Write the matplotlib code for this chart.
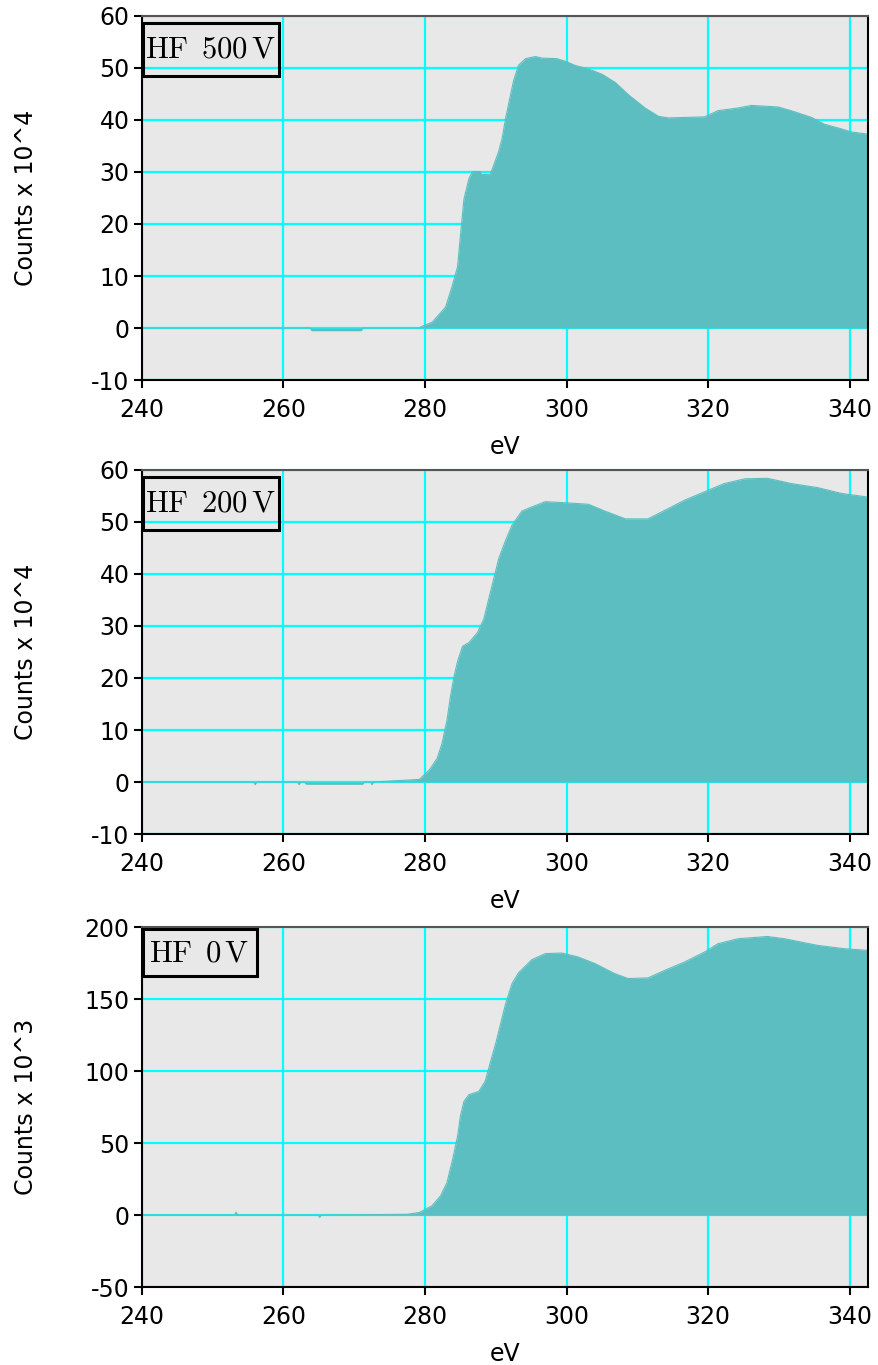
import numpy as np
import matplotlib
matplotlib.use('Agg')
import matplotlib.pyplot as plt
from matplotlib.patches import Rectangle

plt.rcParams['mathtext.fontset'] = 'cm'
plt.rcParams['axes.unicode_minus'] = False

# ---- data (eV, counts) ----
ev_500 = [240, 263.8, 264.0, 271.0, 271.2, 279.2, 279.5, 281.0, 282.9, 283.8,
          284.6, 285.0, 285.5, 286.2, 286.7, 287.8, 288.0, 289.2, 289.7, 290.4,
          290.9, 291.4, 291.8, 292.5, 293.2, 294.2, 295.6, 296.5, 298.6, 299.8,
          301.2, 303.1, 305.0, 306.9, 308.7, 311.1, 313.0, 314.4, 319.5, 321.4,
          324.2, 326.1, 329.9, 331.7, 334.6, 336.4, 338.8, 340.2, 342.5]
cnt_500 = [0, 0, -0.5, -0.5, 0, 0, 0.3, 1.1, 4.0, 7.9,
           11.8, 17.7, 24.8, 28.7, 30.1, 30.1, 29.5, 29.5, 31.3, 33.9,
           36.5, 40.4, 43.0, 47.5, 50.5, 51.8, 52.2, 51.9, 51.8, 51.3,
           50.5, 49.8, 48.8, 47.2, 44.9, 42.3, 40.7, 40.4, 40.6, 41.8,
           42.3, 42.8, 42.5, 41.8, 40.5, 39.2, 38.3, 37.7, 37.3]

ev_200 = [240, 255.8, 256.0, 256.2, 262.0, 262.2, 262.4, 263.0, 263.2, 271.2,
          271.4, 272.3, 272.5, 272.7, 279.2, 280.6, 281.7, 282.4, 283.1, 283.6,
          284.1, 284.6, 285.3, 286.2, 287.4, 288.3, 289.0, 289.7, 290.4, 291.4,
          292.3, 293.7, 295.1, 297.0, 299.8, 303.1, 305.4, 308.3, 311.5, 313.4,
          316.7, 319.5, 322.3, 325.2, 328.4, 331.7, 335.5, 338.8, 342.5]
cnt_200 = [0, 0, -0.5, 0, 0, -0.5, 0, 0, -0.4, -0.4,
           0, 0, -0.5, 0, 0.5, 2.3, 4.5, 7.4, 11.9, 16.5,
           20.3, 23.2, 26.1, 26.8, 28.7, 31.3, 35.2, 39.0, 42.9, 46.5,
           49.4, 52.1, 52.9, 53.9, 53.7, 53.4, 52.1, 50.6, 50.6, 51.9,
           54.2, 55.8, 57.4, 58.3, 58.4, 57.4, 56.6, 55.5, 54.8]

ev_0 = [240, 253.1, 253.3, 253.5, 264.9, 265.1, 265.3, 277.5, 279.2, 281.0,
        282.2, 283.1, 283.9, 284.6, 285.0, 285.5, 286.2, 287.6, 288.5, 289.2,
        290.0, 290.7, 291.4, 292.3, 293.2, 295.1, 297.0, 299.3, 301.6, 304.0,
        306.8, 308.7, 311.5, 313.9, 316.7, 319.5, 321.4, 324.2, 328.4, 330.8,
        335.5, 339.2, 342.5]
cnt_0 = [0, 0, 2.0, 0, 0, -1.5, 0, 0.5, 1.8, 6.5,
         13.4, 22.6, 38.7, 54.8, 68.7, 79.0, 83.6, 85.9, 92.9, 105.5,
         119.4, 133.2, 147.0, 160.8, 168.2, 177.4, 181.6, 182.0, 179.3, 174.7,
         167.7, 164.3, 164.7, 170.0, 175.8, 182.7, 188.5, 191.9, 193.5, 191.9,
         187.3, 185.0, 183.9]

labels = [r'$\mathrm{HF\ \,500\,V}$', r'$\mathrm{HF\ \,200\,V}$', r'$\mathrm{HF\ \,0\,V}$']
ylabels = ['Counts x 10^4', 'Counts x 10^4', 'Counts x 10^3']
ylims = [(-10, 60), (-10, 60), (-50, 200)]
yticks = [np.arange(-10, 61, 10), np.arange(-10, 61, 10), np.arange(-50, 201, 50)]
xticks = [240, 260, 280, 300, 320, 340]

series = [(ev_500, cnt_500), (ev_200, cnt_200), (ev_0, cnt_0)]

fig = plt.figure(figsize=(8.79, 13.65), dpi=100)
# axes rectangles in figure fractions
rects = [[0.1615, 0.7216, 0.826, 0.2667],
         [0.1615, 0.3890, 0.826, 0.2667],
         [0.1615, 0.0571, 0.826, 0.2637]]
# label boxes (x0, y0, w, h) in axes fractions
boxes = [(0.001, 0.835, 0.188, 0.147),
         (0.001, 0.835, 0.188, 0.147),
         (0.001, 0.864, 0.157, 0.130)]

fill_col = '#5cbec0'
grid_col = '#00ffff'

for i, (ev, cnt) in enumerate(series):
    ax = fig.add_axes(rects[i])
    ax.set_facecolor('#e8e8e8')
    ax.fill_between(ev, 0, cnt, color=fill_col, linewidth=0, zorder=2)
    ax.plot(ev, cnt, color=fill_col, linewidth=0.8, zorder=2)
    ax.set_xlim(240, 342.6)
    ax.set_ylim(*ylims[i])
    ax.set_xticks(xticks)
    ax.set_yticks(yticks[i])
    ax.grid(True, color=grid_col, linewidth=1.6, zorder=1)
    ax.set_axisbelow(True)
    for s in ax.spines.values():
        s.set_linewidth(1.5)
        s.set_color('black')
    ax.spines['top'].set_color('#555555')
    ax.tick_params(axis='both', labelsize=17, length=6, width=1.5,
                   direction='out')
    ax.tick_params(axis='x', pad=7)
    ax.tick_params(axis='y', pad=3)
    ax.set_xlabel('eV', fontsize=17, labelpad=9)
    ax.set_ylabel(ylabels[i], fontsize=17)
    ax.yaxis.set_label_coords(-0.143, 0.5)

    bx, by, bw, bh = boxes[i]
    ax.add_patch(Rectangle((bx, by), bw, bh, transform=ax.transAxes,
                           facecolor='none', edgecolor='black',
                           linewidth=2.2, zorder=5, clip_on=False))
    ax.text(bx + bw / 2, by + bh / 2, labels[i], transform=ax.transAxes,
            ha='center', va='center', fontsize=22, zorder=6)

fig.savefig('out.png', dpi=100)
